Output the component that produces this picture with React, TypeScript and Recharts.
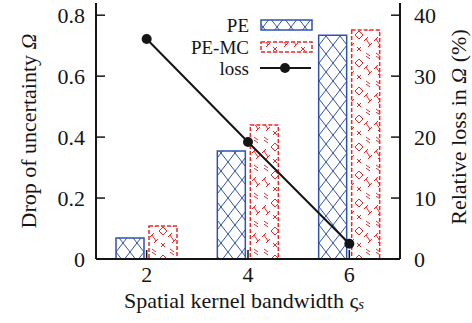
import React from 'react';
import { ComposedChart, Bar, Line, XAxis, YAxis } from 'recharts';

// values
const bandwidths = [2, 4, 6];
const dropPE = [0.069, 0.354, 0.734];
const dropPEMC = [0.108, 0.44, 0.751];
const relLoss = [36.1, 19.2, 2.5];
const leftTicks = [0, 0.2, 0.4, 0.6, 0.8];
const rightTicks = [0, 10, 20, 30, 40];
const xTicks = [2, 4, 6];
const seriesNames = ['PE', 'PE-MC', 'loss'];

const BLUE = '#2f52b0';
const RED = '#f22424';
const INK = '#151515';
const FONT = "'Liberation Serif', 'Times New Roman', 'DejaVu Serif', serif";
const txt: React.CSSProperties = { fontFamily: FONT, fontSize: 22 };
const legendTxt: React.CSSProperties = { fontFamily: FONT, fontSize: 19 };

const data = bandwidths.map((b, i) => ({
  bw: b,
  pe: dropPE[i],
  pemc: dropPEMC[i],
  loss: relLoss[i],
}));

// plot frame (gnuplot style, ticks drawn inward)
const PLOT = { left: 96, right: 400, top: 3, bottom: 259 };
const TICK = 9;

const LeftTick = (props: any) => {
  const { y, payload } = props;
  return (
    <g>
      <line x1={PLOT.left} x2={PLOT.left + TICK} y1={y} y2={y} stroke={INK} strokeWidth={1.5} />
      <text x={85} y={y} textAnchor="end" dominantBaseline="central" style={txt} fill={INK}>
        {String(payload.value)}
      </text>
    </g>
  );
};

const RightTick = (props: any) => {
  const { y, payload } = props;
  return (
    <g>
      <line x1={PLOT.right} x2={PLOT.right - TICK} y1={y} y2={y} stroke={INK} strokeWidth={1.5} />
      <text x={414} y={y} textAnchor="start" dominantBaseline="central" style={txt} fill={INK}>
        {String(payload.value)}
      </text>
    </g>
  );
};

const BottomTick = (props: any) => {
  const { x, payload } = props;
  return (
    <g>
      <line x1={x} x2={x} y1={PLOT.bottom} y2={PLOT.bottom - TICK} stroke={INK} strokeWidth={1.5} />
      <text x={x} y={274} textAnchor="middle" dominantBaseline="central" style={txt} fill={INK}>
        {String(payload.value)}
      </text>
    </g>
  );
};

const TopTick = (props: any) => {
  const { x } = props;
  return <line x1={x} x2={x} y1={PLOT.top} y2={PLOT.top + TICK} stroke={INK} strokeWidth={1.5} />;
};

const Patterns = () => (
  <defs>
    <pattern id="pePattern" patternUnits="userSpaceOnUse" x={116} y={0} width={14} height={18}>
      <path d="M0,0 L14,18 M14,0 L0,18" stroke={BLUE} strokeWidth={1} fill="none" />
    </pattern>
    <pattern id="pemcPattern" patternUnits="userSpaceOnUse" x={149} y={0} width={28} height={28}>
      <path d="M14,3 L18,7 L14,11 L10,7 Z" stroke={RED} strokeWidth={1} fill="none" />
      <path d="M12,19 L16,23 M16,19 L12,23" stroke={RED} strokeWidth={1} fill="none" />
      <path d="M3,11 L7,17 M1,13 L5,9 M5,19 L9,15" stroke={RED} strokeWidth={1} fill="none" />
      <path d="M21,11 L25,17 M19,13 L23,9 M23,19 L27,15" stroke={RED} strokeWidth={1} fill="none" />
      <path d="M3,25 L7,28 M21,25 L25,28 M3,0 L7,3 M21,0 L25,3" stroke={RED} strokeWidth={1} fill="none" />
    </pattern>
  </defs>
);

const Overlay = () => (
  <svg
    width={472}
    height={323}
    style={{ position: 'absolute', left: 0, top: 0, pointerEvents: 'none' }}
    fill={INK}
  >
    {/* legend */}
    <text x={249} y={25} textAnchor="end" dominantBaseline="central" style={legendTxt}>{seriesNames[0]}</text>
    <rect x={261} y={20} width={51} height={10} fill="url(#pePattern)" stroke={BLUE} strokeWidth={1.5} />
    <text x={249} y={47} textAnchor="end" dominantBaseline="central" style={legendTxt}>{seriesNames[1]}</text>
    <rect x={261} y={42} width={51} height={10} fill="url(#pemcPattern)" stroke={RED} strokeWidth={1.5} strokeDasharray="4 2" />
    <text x={249} y={68} textAnchor="end" dominantBaseline="central" style={legendTxt}>{seriesNames[2]}</text>
    <line x1={260} x2={311} y1={68} y2={68} stroke={INK} strokeWidth={2} />
    <circle cx={285} cy={68} r={5} fill={INK} />

    {/* axis titles */}
    <text x={28} y={131} transform="rotate(-90 28 131)" textAnchor="middle" dominantBaseline="central" style={txt}>
      Drop of uncertainty <tspan fontStyle="italic">Ω</tspan>
    </text>
    <text x={458} y={127} transform="rotate(-90 458 127)" textAnchor="middle" dominantBaseline="central" style={txt}>
      Relative loss in <tspan fontStyle="italic">Ω</tspan> (%)
    </text>
    <text x={244} y={300} textAnchor="middle" dominantBaseline="central" style={txt}>
      Spatial kernel bandwidth ς<tspan fontStyle="italic" fontSize={15} dy={4}>s</tspan>
    </text>
  </svg>
);

export default function App() {
  return (
    <div style={{ position: 'absolute', left: 0, top: 0, width: 472, height: 323, background: '#fff', fontFamily: FONT }}>
      <ComposedChart
        width={472}
        height={323}
        data={data}
        margin={{ top: PLOT.top, right: 0, bottom: 0, left: 0 }}
        barGap={5}
      >
        <Patterns />
        <XAxis
          dataKey="bw"
          type="number"
          domain={[1, 7]}
          ticks={xTicks}
          height={64}
          axisLine={{ stroke: INK, strokeWidth: 2 }}
          tickLine={false}
          tick={<BottomTick />}
          interval={0}
        />
        <XAxis
          xAxisId="top"
          orientation="top"
          dataKey="bw"
          type="number"
          domain={[1, 7]}
          ticks={xTicks}
          height={0}
          axisLine={{ stroke: INK, strokeWidth: 2 }}
          tickLine={false}
          tick={<TopTick />}
          interval={0}
        />
        <YAxis
          yAxisId="left"
          domain={[0, 0.84]}
          ticks={leftTicks}
          width={96}
          axisLine={{ stroke: INK, strokeWidth: 2 }}
          tickLine={false}
          tick={<LeftTick />}
          interval={0}
        />
        <YAxis
          yAxisId="right"
          orientation="right"
          domain={[0, 42]}
          ticks={rightTicks}
          width={72}
          axisLine={{ stroke: INK, strokeWidth: 2 }}
          tickLine={false}
          tick={<RightTick />}
          interval={0}
        />
        <Bar
          yAxisId="left"
          dataKey="pe"
          name={seriesNames[0]}
          barSize={28}
          fill="url(#pePattern)"
          stroke={BLUE}
          strokeWidth={1.5}
          isAnimationActive={false}
        />
        <Bar
          yAxisId="left"
          dataKey="pemc"
          name={seriesNames[1]}
          barSize={28}
          fill="url(#pemcPattern)"
          stroke={RED}
          strokeWidth={1.5}
          strokeDasharray="4 2"
          isAnimationActive={false}
        />
        <Line
          yAxisId="right"
          dataKey="loss"
          name={seriesNames[2]}
          stroke={INK}
          strokeWidth={2}
          dot={{ r: 5, fill: INK, stroke: INK, strokeWidth: 0 }}
          activeDot={false}
          isAnimationActive={false}
        />
      </ComposedChart>
      <Overlay />
    </div>
  );
}
